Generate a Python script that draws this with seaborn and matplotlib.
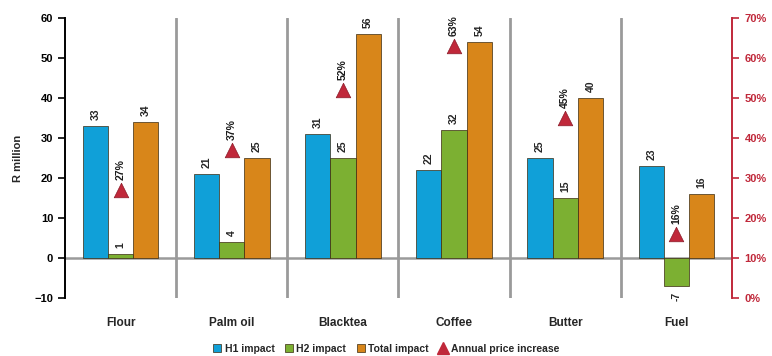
import pandas as pd
import numpy as np
import matplotlib
matplotlib.use('Agg')
import matplotlib.pyplot as plt
import seaborn as sns
from matplotlib.lines import Line2D
from matplotlib.patches import Patch

# data
kategori = ['Flour', 'Palm oil', 'Blacktea', 'Coffee', 'Butter', 'Fuel']
h1_impact = [33, 21, 31, 22, 25, 23]
h2_impact = [1, 4, 25, 32, 15, -7]
total_impact = [34, 25, 56, 54, 40, 16]
annual_increase = [27, 37, 52, 63, 45, 16]

series_names = ['H1 impact', 'H2 impact', 'Total impact']
warna = ['#10a0d8', '#7cb032', '#d8861a']
merah = '#c0283a'

sns.set_style('white')
plt.rcParams['font.family'] = ['Liberation Sans', 'DejaVu Sans']

df = pd.DataFrame({
    'kategori': kategori * 3,
    'seri': np.repeat(series_names, len(kategori)),
    'nilai': h1_impact + h2_impact + total_impact,
})

fig = plt.figure(figsize=(7.72, 3.56), dpi=100)
ax = fig.add_axes([65 / 772, 1 - 298 / 356, 667 / 772, 280 / 356])

sns.barplot(data=df, x='kategori', y='nilai', hue='seri', palette=warna,
            saturation=1, width=0.68, edgecolor='#3a2a10', linewidth=0.5,
            ax=ax, legend=False)

# garis pemisah dan garis nol
for i in range(1, len(kategori)):
    ax.axvline(i - 0.5, color='#9a9a9a', linewidth=2, zorder=0)
ax.axhline(0, color='#9a9a9a', linewidth=1.8, zorder=0.5)

ax.set_ylim(-10, 60)
ax.set_xlim(-0.5, len(kategori) - 0.5)
ax.set_yticks(range(-10, 61, 10))
ax.set_ylabel('R million', fontsize=8, fontweight='bold', labelpad=8)
ax.set_xlabel('')
ax.tick_params(axis='y', direction='out', length=5, width=1.2, colors='black',
               labelsize=8, left=True)
ax.tick_params(axis='x', length=0, labelsize=8.5, pad=14)
for lbl in ax.get_xticklabels() + ax.get_yticklabels():
    lbl.set_fontweight('bold')
for s in ['top', 'right', 'bottom']:
    ax.spines[s].set_visible(False)
ax.spines['left'].set_linewidth(1.4)
ax.spines['left'].set_color('black')

# label nilai di batang
for cont in ax.containers:
    for bar in cont:
        h = bar.get_height()
        xc = bar.get_x() + bar.get_width() / 2
        if h >= 0:
            ax.text(xc, h + 1.5, f'{h:.0f}', rotation=90, ha='center', va='bottom',
                    fontsize=7.5, fontweight='bold')
        else:
            ax.text(xc, h - 1.5, f'{h:.0f}', rotation=90, ha='center', va='top',
                    fontsize=7.5, fontweight='bold')

# kenaikan harga tahunan di sumbu kanan
ax2 = ax.twinx()
ax2.set_ylim(0, 70)
ax2.set_xlim(-0.5, len(kategori) - 0.5)
sns.scatterplot(x=np.arange(len(kategori)), y=annual_increase, marker='^', s=110,
                color=merah, edgecolor='#8a1a28', linewidth=0.5, ax=ax2, zorder=5)
for i, v in enumerate(annual_increase):
    ax2.text(i, v + 2.5, f'{v}%', rotation=90, ha='center', va='bottom',
             fontsize=7.5, fontweight='bold', color='#1a1a1a')
ax2.set_yticks(range(0, 71, 10))
ax2.set_yticklabels([f'{t}%' for t in range(0, 71, 10)])
ax2.tick_params(axis='y', direction='out', length=5, width=1.2, colors=merah,
                labelsize=8, pad=4)
for lbl in ax2.get_yticklabels():
    lbl.set_fontweight('bold')
for s in ['top', 'left', 'bottom']:
    ax2.spines[s].set_visible(False)
ax2.spines['right'].set_color(merah)
ax2.spines['right'].set_linewidth(1.4)
ax2.set_ylabel('')

# legenda
handles = [Patch(facecolor=c, edgecolor='#3a2a10', linewidth=0.5) for c in warna]
handles.append(Line2D([], [], marker='^', color=merah, linestyle='', markersize=8))
fig.legend(handles, series_names + ['Annual price increase'], loc='lower center',
           bbox_to_anchor=(0.5, -0.02), ncol=4, frameon=False,
           handlelength=0.8, handleheight=0.8, columnspacing=1.0, handletextpad=0.3,
           prop={'weight': 'bold', 'size': 7.5})

fig.savefig('out.png', dpi=100)
